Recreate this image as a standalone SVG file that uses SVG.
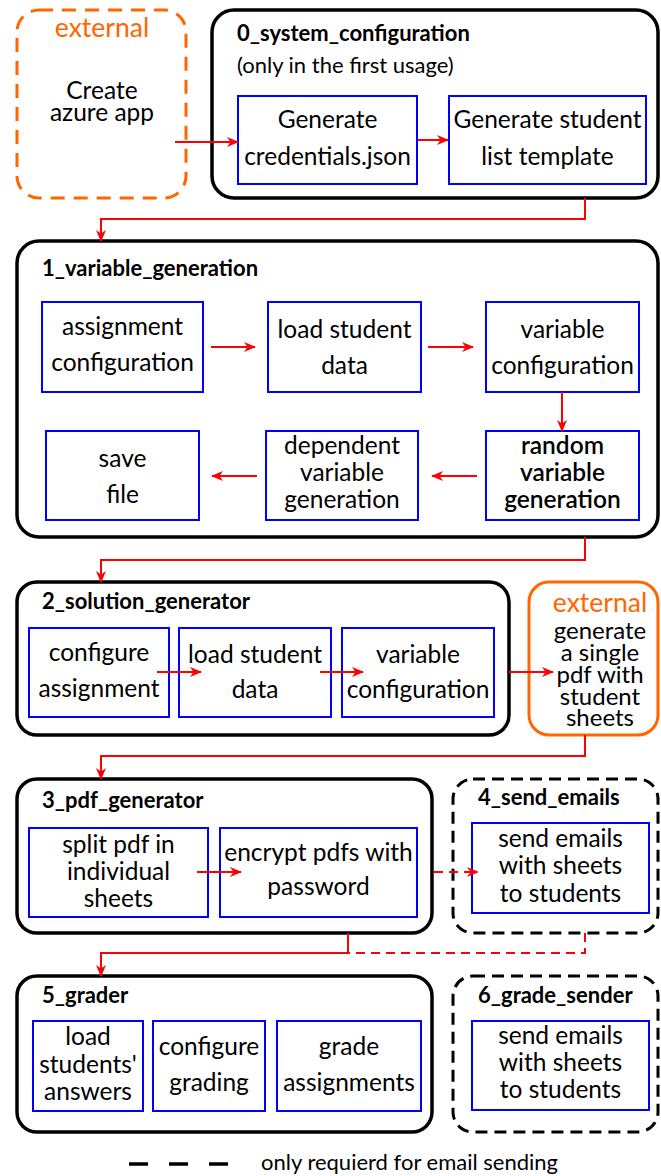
<svg xmlns="http://www.w3.org/2000/svg" width="661" height="1176" viewBox="0 0 661 1176">
  <defs>
    <marker id="arr" viewBox="0 0 12 10" refX="11" refY="5" markerWidth="12" markerHeight="10" markerUnits="userSpaceOnUse" orient="auto">
      <path d="M0,0 L12,5 L0,10 L3.5,5 Z" fill="#ff0000"/>
    </marker>
    <style>
      text { font-family: Lato, "Open Sans", "Liberation Sans", sans-serif; fill: #000; }
      .t { font-size: 24.5px; text-anchor: middle; }
      .tp { font-size: 24px; text-anchor: middle; }
      .h { font-size: 22px; font-weight: bold; }
      .ext { font-size: 26.5px; fill: #ff6600; text-anchor: middle; }
      .sub { font-size: 22px; }
      .grp { fill: #fff; stroke: #000; stroke-width: 3.5; }
      .opt { fill: #fff; stroke: #000; stroke-width: 3; stroke-dasharray: 12 7; }
      .box { fill: #fff; stroke: #0000ff; stroke-width: 2; }
      .oext { fill: #fff; stroke: #ff6600; stroke-width: 3; }
      .c { fill: none; stroke: #ff0000; stroke-width: 2; }
      .ca { fill: none; stroke: #ff0000; stroke-width: 2; marker-end: url(#arr); }
      .dash { stroke-dasharray: 9 6; }
    </style>
  </defs>
  <rect width="661" height="1176" fill="#fff"/>

  <!-- external: azure app -->
  <g id="ext_azure">
    <rect x="17" y="10" width="169" height="188" rx="22" fill="#fff" stroke="#ff6600" stroke-width="3" stroke-dasharray="14 9"/>
    <text class="ext" x="102" y="37">external</text>
    <text class="t" x="102" y="99">Create</text>
    <text class="t" x="102" y="121">azure app</text>
  </g>

  <!-- 0_system_configuration -->
  <g id="sys_config">
    <rect class="grp" x="212" y="10" width="446" height="188" rx="22"/>
    <text class="h" x="237" y="41">0_system_configuration</text>
    <text class="sub" x="237" y="73">(only in the first usage)</text>
  </g>
  <g id="gen_credentials">
    <rect class="box" x="238" y="96" width="179" height="88"/>
    <text class="t" x="327.5" y="128">Generate</text>
    <text class="t" x="327.5" y="165">credentials.json</text>
  </g>
  <g id="gen_student_list">
    <rect class="box" x="449" y="96" width="197" height="88"/>
    <text class="t" x="547.5" y="128">Generate student</text>
    <text class="t" x="547.5" y="165">list template</text>
  </g>

  <!-- 1_variable_generation -->
  <g id="var_gen">
    <rect class="grp" x="17" y="241" width="641" height="296" rx="22"/>
    <text class="h" x="42" y="276">1_variable_generation</text>
  </g>
  <g id="vg_assignment_conf">
    <rect class="box" x="42" y="302" width="161" height="90"/>
    <text class="t" x="122.5" y="335">assignment</text>
    <text class="t" x="122.5" y="371">configuration</text>
  </g>
  <g id="vg_load_student">
    <rect class="box" x="268" y="302" width="153" height="90"/>
    <text class="t" x="344.5" y="338">load student</text>
    <text class="t" x="344.5" y="374">data</text>
  </g>
  <g id="vg_variable_conf">
    <rect class="box" x="486" y="302" width="153" height="90"/>
    <text class="t" x="562.5" y="338">variable</text>
    <text class="t" x="562.5" y="374">configuration</text>
  </g>
  <g id="vg_random">
    <rect class="box" x="486" y="431" width="153" height="89"/>
    <text class="t" x="562.5" y="454" style="font-weight:600">random</text>
    <text class="t" x="562.5" y="481" style="font-weight:600">variable</text>
    <text class="t" x="562.5" y="508" style="font-weight:600">generation</text>
  </g>
  <g id="vg_dependent">
    <rect class="box" x="266" y="431" width="152" height="89"/>
    <text class="t" x="342" y="454">dependent</text>
    <text class="t" x="342" y="481">variable</text>
    <text class="t" x="342" y="508">generation</text>
  </g>
  <g id="vg_save">
    <rect class="box" x="46" y="431" width="153" height="89"/>
    <text class="t" x="122.5" y="467">save</text>
    <text class="t" x="122.5" y="503">file</text>
  </g>

  <!-- 2_solution_generator -->
  <g id="sol_gen">
    <rect class="grp" x="17" y="582" width="492" height="153" rx="20"/>
    <text class="h" x="42" y="609">2_solution_generator</text>
  </g>
  <g id="sg_configure">
    <rect class="box" x="29" y="628" width="140" height="89"/>
    <text class="t" x="99" y="661">configure</text>
    <text class="t" x="99" y="697">assignment</text>
  </g>
  <g id="sg_load_student">
    <rect class="box" x="179" y="628" width="152" height="89"/>
    <text class="t" x="255" y="663">load student</text>
    <text class="t" x="255" y="698">data</text>
  </g>
  <g id="sg_variable_conf">
    <rect class="box" x="342" y="628" width="152" height="89"/>
    <text class="t" x="418" y="663">variable</text>
    <text class="t" x="418" y="698">configuration</text>
  </g>

  <!-- external: single pdf -->
  <g id="ext_pdf">
    <rect class="oext" x="529" y="582" width="129" height="153" rx="20"/>
    <text class="ext" x="600" y="612">external</text>
    <text class="tp" x="600" y="639">generate</text>
    <text class="tp" x="600" y="661">a single</text>
    <text class="tp" x="600" y="683">pdf with</text>
    <text class="tp" x="600" y="705">student</text>
    <text class="tp" x="600" y="726">sheets</text>
  </g>

  <!-- 3_pdf_generator -->
  <g id="pdf_gen">
    <rect class="grp" x="17" y="779" width="415" height="154" rx="20"/>
    <text class="h" x="42" y="808">3_pdf_generator</text>
  </g>
  <g id="pg_split">
    <rect class="box" x="29" y="828" width="179" height="89"/>
    <text class="t" x="118.5" y="853">split pdf in</text>
    <text class="t" x="118.5" y="880">individual</text>
    <text class="t" x="118.5" y="907">sheets</text>
  </g>
  <g id="pg_encrypt">
    <rect class="box" x="220" y="828" width="197" height="89"/>
    <text class="t" x="318.5" y="861">encrypt pdfs with</text>
    <text class="t" x="318.5" y="895">password</text>
  </g>

  <!-- 4_send_emails -->
  <g id="send_emails">
    <rect class="opt" x="453" y="779" width="205" height="154" rx="20"/>
    <text class="h" x="478" y="805">4_send_emails</text>
  </g>
  <g id="se_send">
    <rect class="box" x="472" y="823" width="177" height="90"/>
    <text class="t" x="560.5" y="847">send emails</text>
    <text class="t" x="560.5" y="874">with sheets</text>
    <text class="t" x="560.5" y="902">to students</text>
  </g>

  <!-- 5_grader -->
  <g id="grader">
    <rect class="grp" x="17" y="976" width="415" height="156" rx="20"/>
    <text class="h" x="42" y="1003">5_grader</text>
  </g>
  <g id="gr_load">
    <rect class="box" x="33" y="1021" width="110" height="90"/>
    <text class="t" x="88" y="1045">load</text>
    <text class="t" x="88" y="1073">students'</text>
    <text class="t" x="88" y="1100">answers</text>
  </g>
  <g id="gr_configure">
    <rect class="box" x="153" y="1021" width="112" height="90"/>
    <text class="t" x="209" y="1055">configure</text>
    <text class="t" x="209" y="1091">grading</text>
  </g>
  <g id="gr_grade">
    <rect class="box" x="277" y="1021" width="144" height="90"/>
    <text class="t" x="349" y="1055">grade</text>
    <text class="t" x="349" y="1091">assignments</text>
  </g>

  <!-- 6_grade_sender -->
  <g id="grade_sender">
    <rect class="opt" x="453" y="976" width="205" height="156" rx="20"/>
    <text class="h" x="478" y="1003">6_grade_sender</text>
  </g>
  <g id="gs_send">
    <rect class="box" x="472" y="1021" width="177" height="89"/>
    <text class="t" x="560.5" y="1044">send emails</text>
    <text class="t" x="560.5" y="1071">with sheets</text>
    <text class="t" x="560.5" y="1098">to students</text>
  </g>

  <!-- legend -->
  <g id="legend">
    <line x1="129" y1="1164" x2="230" y2="1164" stroke="#000" stroke-width="3.5" stroke-dasharray="19 21"/>
    <text class="sub" x="261" y="1170">only requierd for email sending</text>
  </g>

  <!-- connectors -->
  <g id="connectors">
    <path class="ca" d="M175,142 L238,142"/>
    <path class="ca" d="M418,140 L448,140"/>
    <path class="ca" d="M585,198 L585,219 L101,219 L101,241"/>

    <path class="ca" d="M211,347 L255,347"/>
    <path class="ca" d="M428,347 L473,347"/>
    <path class="ca" d="M562,392 L562,431"/>
    <path class="ca" d="M477,476 L432,476"/>
    <path class="ca" d="M257,476 L212,476"/>
    <path class="ca" d="M585,537 L585,560 L101,560 L101,582"/>

    <path class="ca" d="M157,672 L201,672"/>
    <path class="ca" d="M320,672 L363,672"/>
    <path class="ca" d="M509,672 L553,672"/>
    <path class="ca" d="M585,735 L585,756 L101,756 L101,779"/>

    <path class="ca" d="M197,872 L241,872"/>
    <path class="ca dash" d="M434,872 L478,872"/>
    <path class="ca" d="M348,933 L348,953 L101,953 L101,976"/>
    <path class="c dash" d="M585,933 L585,953 L348,953"/>
  </g>
</svg>
